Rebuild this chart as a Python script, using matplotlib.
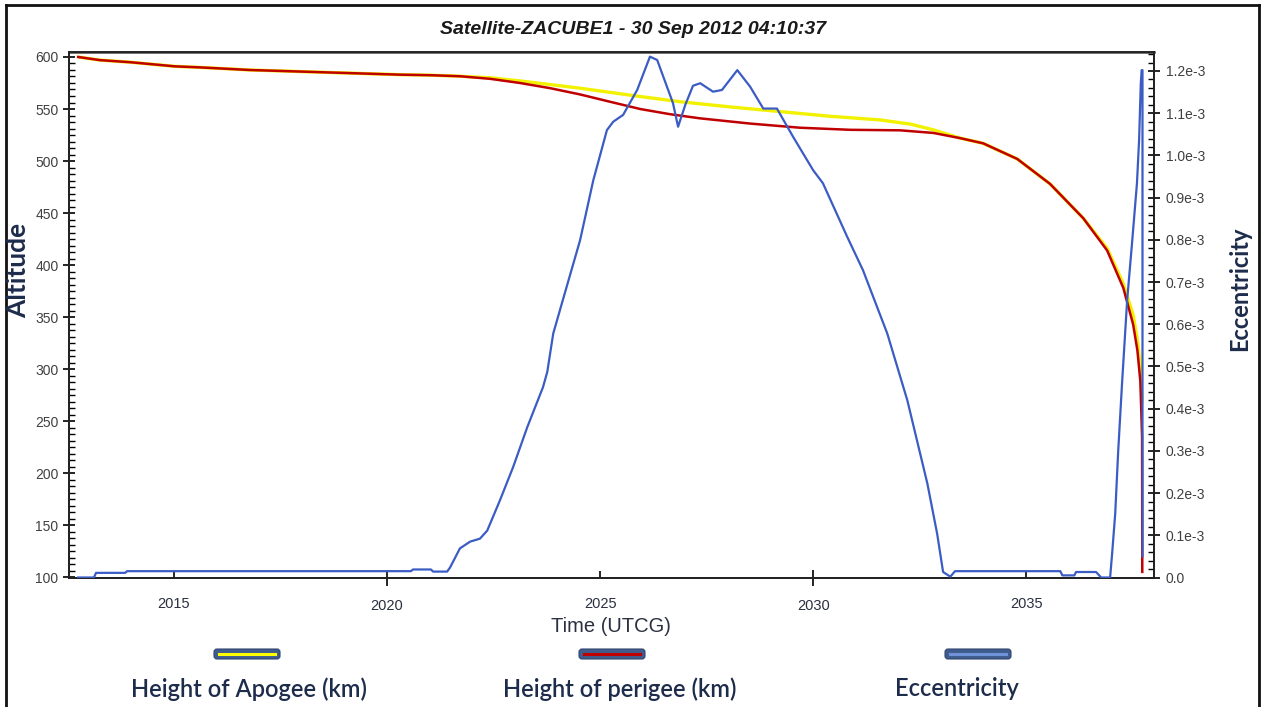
import matplotlib
matplotlib.use("Agg")
import matplotlib.pyplot as plt
from matplotlib.ticker import FixedLocator, AutoMinorLocator, FuncFormatter, MultipleLocator
from matplotlib.patches import FancyBboxPatch
from matplotlib.lines import Line2D

# orbit history of ZACUBE1 (time in decimal years)
perigee_t = [2012.75, 2013.26, 2013.97, 2015.02, 2015.61, 2016.78, 2017.96, 2019.13,
             2020.31, 2021.01, 2021.71, 2022.42, 2023.12, 2023.83, 2024.53, 2025.23,
             2025.94, 2026.64, 2027.35, 2028.52, 2029.69, 2030.87, 2032.04, 2032.82,
             2033.45, 2033.99, 2034.79, 2035.56, 2036.34, 2036.90, 2037.28, 2037.51,
             2037.61, 2037.68, 2037.72, 2037.725]
perigee_km = [600, 597, 595, 591, 590, 587.5, 586, 584.5,
              583, 582.5, 581.5, 579, 575, 570, 564, 557,
              550, 545, 541, 536, 532, 530, 529.5, 527,
              522, 517, 502, 478, 445, 414, 378, 343,
              318, 288, 235, 105]

apogee_t = [2012.75, 2013.26, 2013.97, 2015.02, 2015.61, 2016.78, 2017.96, 2019.13,
            2020.31, 2021.01, 2021.71, 2022.42, 2023.12, 2023.83, 2024.53, 2025.23,
            2025.94, 2026.88, 2028.05, 2029.23, 2030.40, 2031.57, 2032.28, 2032.82,
            2033.45, 2033.99, 2034.79, 2035.56, 2036.34, 2036.90, 2037.28, 2037.51,
            2037.61, 2037.68, 2037.72]
apogee_km = [600, 597, 595, 591, 590, 587.5, 586, 584.5,
             583, 582.5, 581.5, 580, 577, 573.5, 570, 566,
             562, 557, 552, 547.5, 543, 539.5, 535.5, 530,
             522, 517, 502, 478, 445, 416, 382, 352,
             328, 302, 268]

ecc_t = [2012.75, 2013.12, 2013.17, 2013.85, 2013.90, 2020.56, 2020.61, 2021.03,
         2021.08, 2021.41, 2021.48, 2021.71, 2021.95, 2022.18, 2022.35, 2022.65,
         2022.96, 2023.29, 2023.66, 2023.76, 2023.90, 2024.13, 2024.53, 2024.84,
         2025.16, 2025.31, 2025.54, 2025.87, 2026.17, 2026.34, 2026.71, 2026.83,
         2027.00, 2027.18, 2027.35, 2027.65, 2027.86, 2028.22, 2028.52, 2028.83,
         2029.15, 2029.53, 2030.00, 2030.23, 2030.80, 2031.17, 2031.74, 2032.21,
         2032.68, 2032.91, 2033.05, 2033.22, 2033.33, 2035.80, 2035.85, 2036.13,
         2036.17, 2036.64, 2036.76, 2036.97, 2037.02, 2037.09, 2037.16, 2037.25,
         2037.37, 2037.49, 2037.60, 2037.65, 2037.69, 2037.71, 2037.73, 2037.73]
ecc_e3 = [0.0, 0.0, 0.011, 0.011, 0.015, 0.015, 0.019, 0.019,
          0.014, 0.014, 0.024, 0.069, 0.085, 0.092, 0.111, 0.183,
          0.262, 0.356, 0.451, 0.487, 0.578, 0.659, 0.799, 0.941,
          1.060, 1.080, 1.096, 1.155, 1.234, 1.226, 1.124, 1.068,
          1.120, 1.165, 1.171, 1.151, 1.155, 1.202, 1.163, 1.111,
          1.111, 1.044, 0.965, 0.934, 0.807, 0.728, 0.578, 0.420,
          0.223, 0.104, 0.013, 0.002, 0.015, 0.015, 0.005, 0.005,
          0.013, 0.013, 0.0, 0.0, 0.060, 0.152, 0.300, 0.460,
          0.657, 0.799, 0.934, 1.036, 1.170, 1.202, 1.202, 0.050]
ecc = [v * 1e-3 for v in ecc_e3]

year_ticks = [2020, 2030]
half_ticks = [2015, 2025, 2035]

W, H = 1264, 707
fig = plt.figure(figsize=(W / 100, H / 100), dpi=100)
fig.patch.set_facecolor("white")

x0, x1, y0, y1 = 69, 1154, 52, 577.5
ax = fig.add_axes([x0 / W, 1 - y1 / H, (x1 - x0) / W, (y1 - y0) / H])
ax2 = ax.twinx()

ax.plot(apogee_t, apogee_km, color="#f2f200", lw=2.4, solid_capstyle="butt", zorder=2)
ax.plot(perigee_t, perigee_km, color="#c00000", lw=1.8, zorder=3)
ax2.plot(ecc_t, ecc, color="#3b5cc4", lw=1.6, zorder=4)

ax.set_xlim(2012.535, 2038.0)
ax.set_ylim(99.6, 604.8)
ax2.set_ylim(0, 1.245e-3)

tick_col = "#404040"

ax.xaxis.set_major_locator(FixedLocator(year_ticks))
ax.xaxis.set_minor_locator(FixedLocator(half_ticks))
ax.xaxis.set_major_formatter(FuncFormatter(lambda v, p: f"{int(round(v))}"))
ax.xaxis.set_minor_formatter(FuncFormatter(lambda v, p: f"{int(round(v))}"))
ax.tick_params(axis="x", which="major", direction="inout", length=12, width=1.2, pad=9.5,
               labelsize=10.5, labelcolor="#2a3040")
ax.tick_params(axis="x", which="minor", direction="in", length=5, width=1.2, pad=13.8,
               labelsize=10.5, labelcolor="#2a3040")

ax.yaxis.set_major_locator(MultipleLocator(50))
ax.yaxis.set_minor_locator(AutoMinorLocator(8))
ax.tick_params(axis="y", which="major", direction="inout", length=9, width=1.2, pad=3,
               labelsize=10, labelcolor=tick_col)
ax.tick_params(axis="y", which="minor", direction="in", length=4, width=1.0)

ax2.yaxis.set_major_locator(MultipleLocator(0.1e-3))
ax2.yaxis.set_minor_locator(AutoMinorLocator(5))
ax2.yaxis.set_major_formatter(FuncFormatter(
    lambda v, p: "0.0" if abs(v) < 1e-9 else f"{v * 1e3:.1f}e-3"))
ax2.tick_params(axis="y", which="major", direction="inout", length=9, width=1.2, pad=4,
                labelsize=10, labelcolor=tick_col)
ax2.tick_params(axis="y", which="minor", direction="in", length=4, width=1.0)

for a in (ax, ax2):
    for lbl in a.get_xticklabels(which="both") + a.get_yticklabels():
        lbl.set_family("Liberation Sans")
    for s in a.spines.values():
        s.set_linewidth(1.3)
        s.set_color("#222222")
ax.spines["top"].set_color("#444444")
ax.spines["top"].set_linewidth(1.8)

navy = "#1e2c4c"
fig.text(633 / W, 1 - 30 / H, "Satellite-ZACUBE1 - 30 Sep 2012 04:10:37",
         ha="center", va="center", fontsize=14, fontweight="bold", fontstyle="italic",
         family="Liberation Sans", color="#1a1a1a")
fig.text(611 / W, 1 - 627 / H, "Time (UTCG)", ha="center", va="center", fontsize=14.5,
         family=["Liberation Sans Narrow", "Liberation Sans"], color="#2a3040")
fig.text(18 / W, 1 - 270 / H, "Altitude", ha="center", va="center", rotation=90,
         fontsize=19, fontweight="bold", family="Lato", color=navy)
fig.text(1240 / W, 1 - 289 / H, "Eccentricity", ha="center", va="center", rotation=90,
         fontsize=17, fontweight="bold", family="Lato", color=navy)

# legend swatches under the plot, in pixel coordinates
px = fig.dpi_scale_trans
swatches = [(214, 280, "#ffff00", "Height of Apogee (km)", 249),
            (579, 645, "#c00000", "Height of perigee (km)", 620),
            (945, 1011, "#6f92d8", "Eccentricity", 957)]
for xa, xb, col, label, xc in swatches:
    box = FancyBboxPatch(((xa) / 100, (H - 659) / 100), (xb - xa) / 100, 10 / 100,
                         boxstyle="round,pad=0,rounding_size=0.03",
                         transform=px, facecolor="#3f5c8c", edgecolor="#2f4670", lw=0.8)
    fig.add_artist(box)
    fig.add_artist(Line2D([(xa + 5) / 100, (xb - 5) / 100], [(H - 654) / 100] * 2,
                          transform=px, color=col, lw=2.2))
    fig.text(xc / W, 1 - 689 / H, label, ha="center", va="center", fontsize=17,
             fontweight="semibold", family="Lato", color=navy)

# outer frame
for xs, ys in [([6, 1259], [5, 5]), ([6, 6], [5, 707]), ([1259, 1259], [5, 707])]:
    fig.add_artist(Line2D([v / 100 for v in xs], [(H - v) / 100 for v in ys],
                          transform=px, color="#111111", lw=2))

fig.savefig("out.png", dpi=100)
